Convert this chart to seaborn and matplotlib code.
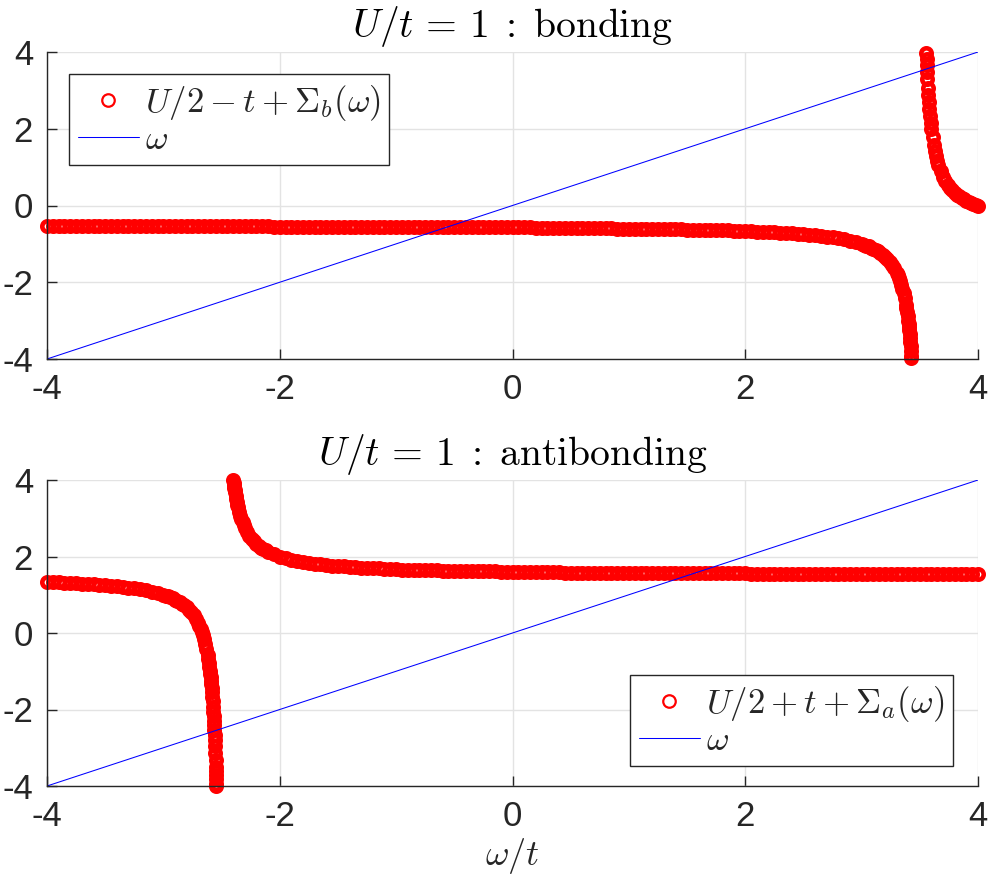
import matplotlib
matplotlib.use("Agg")
import matplotlib.pyplot as plt
import seaborn as sns

# ---------------- data ----------------
omega_line = [-4.0, 4.0]

# bonding: U/2 - t + Sigma_b(omega), left branch
bond_left_x = [
    -4.00, -3.95, -3.90, -3.85, -3.80, -3.75, -3.70, -3.65,
    -3.60, -3.55, -3.50, -3.45, -3.40, -3.35, -3.30, -3.25, -3.20, -3.15, -3.10, -3.05,
    -3.00, -2.95, -2.90, -2.85, -2.80, -2.75, -2.70, -2.65, -2.60, -2.55, -2.50, -2.45,
    -2.40, -2.35, -2.30, -2.25, -2.20, -2.15, -2.10,
    -2.05, -2.00, -1.95, -1.90, -1.85, -1.80, -1.75, -1.70, -1.65, -1.60, -1.55, -1.50,
    -1.45, -1.40, -1.35, -1.30, -1.25, -1.20, -1.15, -1.10,
    -1.05, -1.00, -0.95, -0.90, -0.85, -0.80, -0.75, -0.70, -0.65, -0.60, -0.55, -0.50,
    -0.45, -0.40,
    -0.35, -0.30, -0.25, -0.20, -0.15, -0.10, -0.05, 0.00, 0.05, 0.10, 0.15,
    0.20, 0.25, 0.30, 0.35, 0.40, 0.45, 0.50, 0.55,
    0.60, 0.65, 0.70, 0.75, 0.80, 0.85,
    0.90, 0.95, 1.00, 1.05, 1.10,
    1.15, 1.20, 1.25, 1.30,
    1.35, 1.40, 1.45,
    1.50, 1.55, 1.60,
    1.65, 1.70, 1.75,
    1.80, 1.85,
    1.90, 1.95,
    2.00, 2.05, 2.10, 2.15, 2.20, 2.25, 2.30, 2.35, 2.40, 2.45, 2.50,
    2.55, 2.60, 2.65, 2.70, 2.75, 2.80, 2.85, 2.90, 2.95, 3.00,
    3.02, 3.04, 3.06, 3.08, 3.10, 3.12, 3.14, 3.16, 3.18, 3.20,
    3.22, 3.24, 3.26, 3.28, 3.30,
    3.31, 3.32, 3.33, 3.34, 3.35, 3.36, 3.37, 3.38,
    3.385, 3.39, 3.395, 3.400, 3.403, 3.406, 3.409, 3.412, 3.415, 3.418,
    3.421, 3.424, 3.427, 3.428,
]
bond_left_y = [
    -0.53, -0.53, -0.53, -0.53, -0.53, -0.53, -0.53, -0.53,
    -0.54, -0.54, -0.54, -0.54, -0.54, -0.54, -0.54, -0.54, -0.54, -0.54, -0.54, -0.54,
    -0.54, -0.54, -0.54, -0.54, -0.54, -0.54, -0.54, -0.54, -0.54, -0.54, -0.54, -0.54,
    -0.54, -0.54, -0.54, -0.54, -0.54, -0.54, -0.54,
    -0.55, -0.55, -0.55, -0.55, -0.55, -0.55, -0.55, -0.55, -0.55, -0.55, -0.55, -0.55,
    -0.55, -0.55, -0.55, -0.55, -0.55, -0.55, -0.55, -0.55,
    -0.56, -0.56, -0.56, -0.56, -0.56, -0.56, -0.56, -0.56, -0.56, -0.56, -0.56, -0.56,
    -0.56, -0.56,
    -0.57, -0.57, -0.57, -0.57, -0.57, -0.57, -0.57, -0.57, -0.57, -0.57, -0.57,
    -0.58, -0.58, -0.58, -0.58, -0.58, -0.58, -0.58, -0.58,
    -0.59, -0.59, -0.59, -0.59, -0.59, -0.59,
    -0.60, -0.60, -0.60, -0.60, -0.60,
    -0.61, -0.61, -0.61, -0.61,
    -0.62, -0.62, -0.62,
    -0.63, -0.63, -0.63,
    -0.64, -0.64, -0.64,
    -0.65, -0.65,
    -0.66, -0.66,
    -0.667, -0.672, -0.679, -0.685, -0.692, -0.700, -0.708, -0.717, -0.727, -0.738, -0.750,
    -0.763, -0.778, -0.794, -0.813, -0.833, -0.857, -0.885, -0.917, -0.955, -1.000,
    -1.021, -1.043, -1.068, -1.095, -1.125, -1.158, -1.194, -1.235, -1.281, -1.333,
    -1.393, -1.462, -1.542, -1.636, -1.750,
    -1.816, -1.889, -1.971, -2.063, -2.167, -2.286, -2.423, -2.583,
    -2.674, -2.773, -2.881, -3.000, -3.077, -3.160, -3.247, -3.341, -3.441, -3.549,
    -3.665, -3.789, -3.925, -3.972,
]
# bonding, right branch (above the pole)
bond_right_x = [
    3.556, 3.558, 3.560, 3.563, 3.566, 3.570, 3.574, 3.578, 3.583, 3.588, 3.594,
    3.60, 3.61, 3.62, 3.63, 3.64, 3.65, 3.66, 3.68, 3.70, 3.72, 3.74, 3.76, 3.78,
    3.80, 3.82, 3.84, 3.86, 3.88, 3.90, 3.92, 3.94, 3.96, 3.98, 4.00,
]
bond_right_y = [
    3.964, 3.810, 3.667, 3.468, 3.288, 3.071, 2.878, 2.705, 2.512, 2.341, 2.160,
    2.000, 1.773, 1.583, 1.423, 1.286, 1.167, 1.063, 0.889, 0.750, 0.636, 0.542, 0.462, 0.393,
    0.333, 0.281, 0.235, 0.194, 0.158, 0.125, 0.095, 0.068, 0.043, 0.021, 0.000,
]

# antibonding: U/2 + t + Sigma_a(omega), left branch
anti_left_x = [
    -4.00, -3.95, -3.90, -3.85, -3.80, -3.75, -3.70, -3.65, -3.60, -3.55, -3.50,
    -3.45, -3.40, -3.35, -3.30, -3.25, -3.20, -3.15, -3.10, -3.05, -3.00,
    -2.98, -2.96, -2.94, -2.92, -2.90, -2.88, -2.86, -2.84, -2.82, -2.80,
    -2.78, -2.76, -2.74, -2.72, -2.70,
    -2.69, -2.68, -2.67, -2.66, -2.65, -2.64, -2.63, -2.62,
    -2.615, -2.61, -2.605, -2.600,
    -2.597, -2.594, -2.591, -2.588, -2.585, -2.582, -2.579, -2.576, -2.573, -2.570,
    -2.568, -2.566, -2.564, -2.562, -2.560, -2.558, -2.556, -2.554, -2.552, -2.550,
    -2.549, -2.548, -2.547, -2.546, -2.5455,
]
anti_left_y = [
    1.333, 1.328, 1.321, 1.315, 1.308, 1.300, 1.292, 1.283, 1.273, 1.262, 1.250,
    1.237, 1.222, 1.206, 1.188, 1.167, 1.143, 1.115, 1.083, 1.045, 1.000,
    0.979, 0.957, 0.932, 0.905, 0.875, 0.842, 0.806, 0.765, 0.719, 0.667,
    0.607, 0.538, 0.458, 0.364, 0.250,
    0.184, 0.111, 0.029, -0.063, -0.167, -0.286, -0.423, -0.583,
    -0.674, -0.773, -0.881, -1.000,
    -1.077, -1.160, -1.247, -1.341, -1.441, -1.549, -1.665, -1.789, -1.925, -2.071,
    -2.176, -2.288, -2.406, -2.532, -2.667, -2.810, -2.964, -3.130, -3.308, -3.500,
    -3.602, -3.708, -3.819, -3.935, -3.995,
]
# antibonding, right branch
anti_right_x = [
    -2.400, -2.397, -2.394, -2.391, -2.388, -2.385, -2.380, -2.375, -2.370, -2.365,
    -2.36, -2.35, -2.34, -2.33, -2.32, -2.31, -2.30, -2.28, -2.26, -2.24, -2.22,
    -2.20, -2.18, -2.16, -2.14, -2.12, -2.10, -2.05, -2.00, -1.95, -1.90, -1.85,
    -1.80, -1.75, -1.70, -1.65, -1.60, -1.55, -1.50,
    -1.45, -1.40, -1.35, -1.30, -1.25, -1.20, -1.15, -1.10, -1.05, -1.00,
    -0.95, -0.90, -0.85, -0.80, -0.75, -0.70, -0.65, -0.60, -0.55, -0.50,
    -0.45, -0.40, -0.35, -0.30, -0.25, -0.20, -0.15, -0.10, -0.05, 0.00,
    0.05, 0.10, 0.15, 0.20, 0.25, 0.30, 0.35, 0.40, 0.45, 0.50,
    0.55, 0.60, 0.65, 0.70, 0.75, 0.80, 0.85, 0.90, 0.95, 1.00,
    1.05, 1.10, 1.15, 1.20, 1.25, 1.30, 1.35, 1.40, 1.45, 1.50,
    1.55, 1.60, 1.65, 1.70, 1.75, 1.80, 1.85, 1.90, 1.95, 2.00,
    2.05, 2.10, 2.15, 2.20, 2.25, 2.30, 2.35, 2.40, 2.45, 2.50,
    2.55, 2.60, 2.65, 2.70, 2.75, 2.80, 2.85, 2.90, 2.95, 3.00,
    3.05, 3.10, 3.15, 3.20, 3.25, 3.30, 3.35, 3.40, 3.45, 3.50,
    3.55, 3.60, 3.65, 3.70, 3.75, 3.80, 3.85, 3.90, 3.95, 4.00,
]
anti_right_y = [
    4.000, 3.927, 3.858, 3.794, 3.732, 3.674, 3.583, 3.500, 3.423, 3.352,
    3.286, 3.167, 3.063, 2.971, 2.889, 2.816, 2.750, 2.636, 2.542, 2.462, 2.393,
    2.333, 2.281, 2.235, 2.194, 2.158, 2.125, 2.056, 2.000, 1.955, 1.917, 1.885,
    1.857, 1.833, 1.813, 1.794, 1.778, 1.763, 1.750,
    1.74, 1.73, 1.72, 1.71, 1.70, 1.69, 1.69, 1.68, 1.67, 1.67,
    1.66, 1.66, 1.65, 1.65, 1.64, 1.64, 1.64, 1.63, 1.63, 1.63,
    1.62, 1.62, 1.62, 1.61, 1.61, 1.61, 1.61, 1.60, 1.60, 1.60,
    1.60, 1.60, 1.59, 1.59, 1.59, 1.59, 1.59, 1.59, 1.58, 1.58,
    1.58, 1.58, 1.58, 1.58, 1.58, 1.58, 1.57, 1.57, 1.57, 1.57,
    1.57, 1.57, 1.57, 1.57, 1.57, 1.57, 1.56, 1.56, 1.56, 1.56,
    1.56, 1.56, 1.56, 1.56, 1.56, 1.56, 1.56, 1.56, 1.56, 1.56,
    1.55, 1.55, 1.55, 1.55, 1.55, 1.55, 1.55, 1.55, 1.55, 1.55,
    1.55, 1.55, 1.55, 1.55, 1.55, 1.55, 1.55, 1.55, 1.55, 1.55,
    1.55, 1.54, 1.54, 1.54, 1.54, 1.54, 1.54, 1.54, 1.54, 1.54,
    1.54, 1.54, 1.54, 1.54, 1.54, 1.54, 1.54, 1.54, 1.54, 1.54,
]

ticks = [-4, -2, 0, 2, 4]
tick_labels = ["-4", "-2", "0", "2", "4"]
titles = [r"$U/t\,=\,1\;:\;\mathrm{bonding}$",
          r"$U/t\,=\,1\;:\;\mathrm{antibonding}$"]
labels_sigma = [r"$U/2-t+\Sigma_b(\omega)$", r"$U/2+t+\Sigma_a(\omega)$"]
xlabel = r"$\omega/t$"

# ---------------- style ----------------
sns.set_style("white")
plt.rcParams["font.family"] = ["Liberation Sans", "DejaVu Sans"]
plt.rcParams["mathtext.fontset"] = "cm"
plt.rcParams["axes.unicode_minus"] = False

W, H = 989, 885
fig = plt.figure(figsize=(W / 100, H / 100), dpi=100)
ax_top = fig.add_axes([47 / W, 1 - 359 / H, (978 - 47) / W, (359 - 52) / H])
ax_bot = fig.add_axes([47 / W, 1 - 786 / H, (978 - 47) / W, (786 - 480) / H])

marker_kw = dict(linestyle="none", marker="o", markersize=7.5, markerfacecolor="none",
                 markeredgecolor="red", markeredgewidth=3.3, color="red",
                 estimator=None, sort=False, clip_on=False)

series = [
    (ax_top, bond_left_x, bond_left_y, bond_right_x, bond_right_y),
    (ax_bot, anti_left_x, anti_left_y, anti_right_x, anti_right_y),
]
legend_anchor = [(69 / W, 1 - 74 / H), (630 / W, 1 - 675 / H)]

for i, (ax, xl, yl, xr, yr) in enumerate(series):
    sns.lineplot(x=xl, y=yl, ax=ax, label=labels_sigma[i], **marker_kw)
    sns.lineplot(x=xr, y=yr, ax=ax, **marker_kw)
    sns.lineplot(x=omega_line, y=omega_line, ax=ax, color="blue", linewidth=0.75,
                 label=r"$\omega$", estimator=None, sort=False)
    ax.set_xlim(-4, 4)
    ax.set_ylim(-4, 4)
    ax.set_xticks(ticks)
    ax.set_xticklabels(tick_labels)
    ax.set_yticks(ticks)
    ax.set_yticklabels(tick_labels)
    ax.grid(True, color="#e3e3e3", linewidth=1.0)
    ax.set_axisbelow(True)
    for s in ["top", "right"]:
        ax.spines[s].set_visible(False)
    for s in ["left", "bottom"]:
        ax.spines[s].set_color("#262626")
        ax.spines[s].set_linewidth(1.0)
    ax.tick_params(direction="in", length=7, width=1.0, colors="#262626",
                   labelsize=25, pad=10, bottom=True, left=True)
    ax.set_title(titles[i], fontsize=28.5, pad=11, color="black")
    leg = ax.legend(loc="upper left", bbox_to_anchor=legend_anchor[i],
                    bbox_transform=fig.transFigure, borderaxespad=0,
                    fontsize=25, frameon=True, fancybox=False, framealpha=1,
                    edgecolor="#262626", handlelength=1.77, handletextpad=0.17,
                    labelspacing=0.02, borderpad=0.25)
    leg.get_frame().set_linewidth(1.0)
    h0 = leg.legend_handles[0]
    h0.set_markersize(9)
    h0.set_markeredgewidth(1.6)
    ax.set_xlabel("")
    ax.set_ylabel("")

ax_bot.set_xlabel(xlabel, fontsize=26, labelpad=2)

fig.savefig("out.png", dpi=100)
